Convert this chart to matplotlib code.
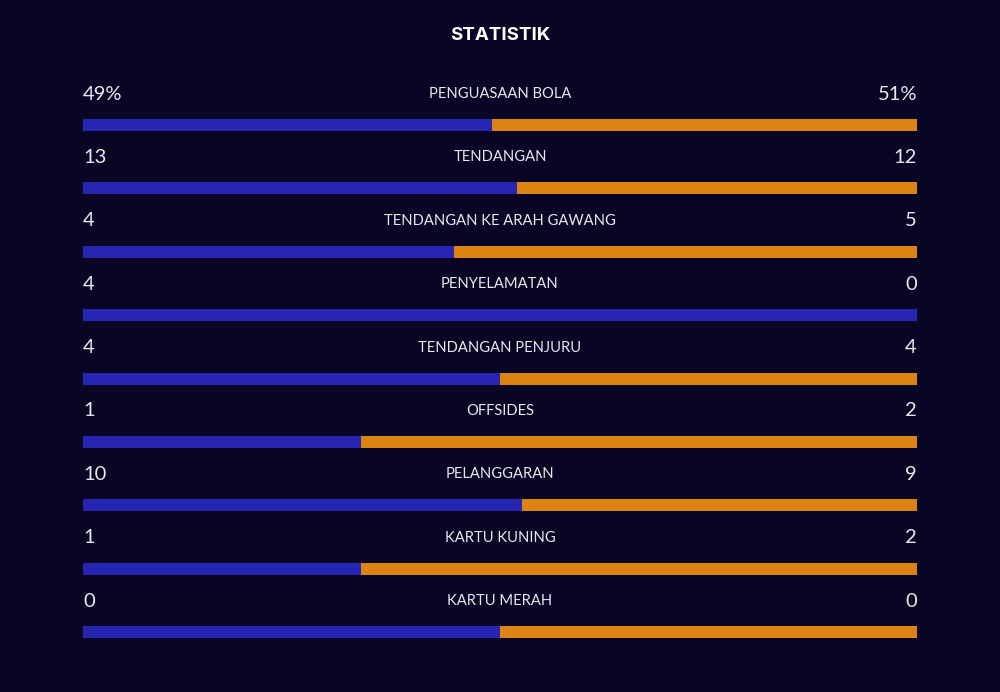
import matplotlib.pyplot as plt
from matplotlib.patches import Rectangle

labels = ["PENGUASAAN BOLA", "TENDANGAN", "TENDANGAN KE ARAH GAWANG", "PENYELAMATAN",
          "TENDANGAN PENJURU", "OFFSIDES", "PELANGGARAN", "KARTU KUNING", "KARTU MERAH"]
home = [49, 13, 4, 4, 4, 1, 10, 1, 0]
away = [51, 12, 5, 0, 4, 2, 9, 2, 0]
home_txt = ["49%", "13", "4", "4", "4", "1", "10", "1", "0"]
away_txt = ["51%", "12", "5", "0", "4", "2", "9", "2", "0"]

bg = '#080624'
blue = '#2626b3'
orange = '#db8412'

fig = plt.figure(figsize=(10, 6.92), dpi=100)
fig.patch.set_facecolor(bg)
ax = fig.add_axes([0, 0, 1, 1])
ax.set_xlim(0, 1000)
ax.set_ylim(692, 0)
ax.axis('off')

ax.text(500, 36, "STATISTIK", color='white', fontsize=13.5, fontweight='bold',
        family='Inter', ha='center', va='center')

x0, x1 = 83, 917
w = x1 - x0
step = 63.4
for i, lab in enumerate(labels):
    ty = 94 + i * step
    by = 119 + i * step
    tot = home[i] + away[i]
    frac = home[i] / tot if tot else 0.5
    ax.add_patch(Rectangle((x0, by), w * frac, 12, color=blue, lw=0))
    ax.add_patch(Rectangle((x0 + w * frac, by), w * (1 - frac), 12, color=orange, lw=0))
    ax.text(500, ty, lab, color='#e8e8ee', fontsize=10.6, family='Lato', ha='center', va='center')
    ax.text(x0, ty, home_txt[i], color='#e8e8ee', fontsize=14.5, family='Lato', ha='left', va='center')
    ax.text(x1, ty, away_txt[i], color='#e8e8ee', fontsize=14.5, family='Lato', ha='right', va='center')

plt.savefig('out.png', dpi=100, facecolor=bg)
